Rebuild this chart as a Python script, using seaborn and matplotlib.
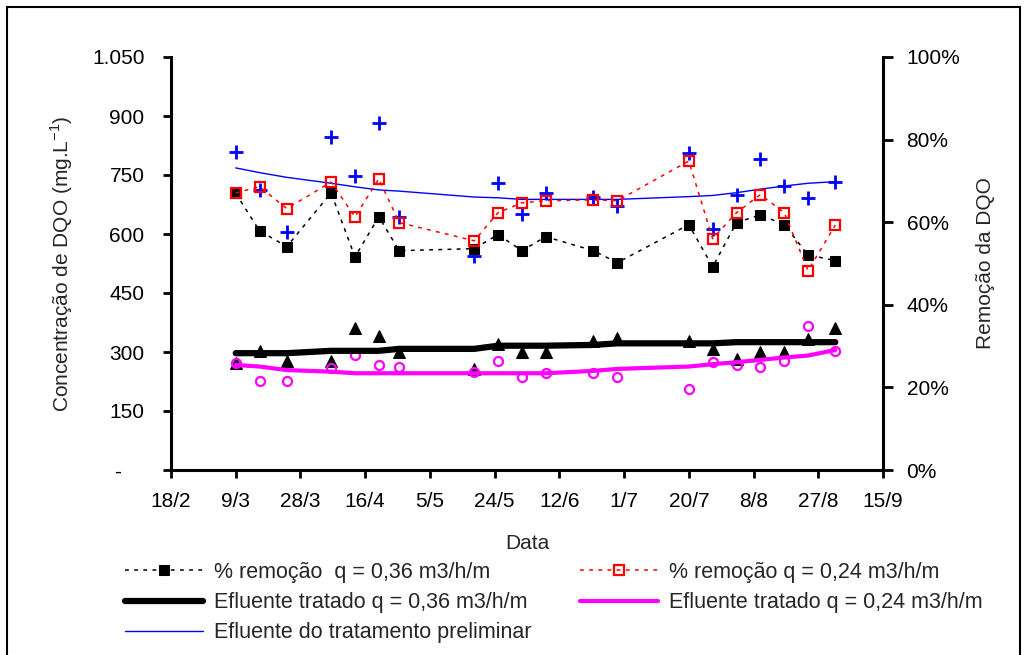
import pandas as pd
import seaborn as sns
import matplotlib.pyplot as plt
from matplotlib.patches import Rectangle
from matplotlib.ticker import FuncFormatter

# datas das coletas (dia/mes)
datas = ['9/3', '16/3', '24/3', '6/4', '13/4', '20/4', '26/4', '18/5', '25/5', '1/6',
         '8/6', '22/6', '29/6', '20/7', '27/7', '3/8', '10/8', '17/8', '24/8', '1/9']

# DQO (mg/L)
afluente = [809, 712, 606, 846, 748, 883, 642, 544, 729, 651,
            703, 695, 671, 807, 612, 698, 790, 722, 692, 733]
afluente_media = [768, 756, 744, 729, 720, 712, 709, 694, 692, 688,
                  688, 688, 688, 695, 698, 705, 714, 722, 729, 733]

tratado_036 = [271, 303, 278, 277, 360, 341, 299, 257, 320, 301,
               301, 328, 336, 328, 308, 281, 301, 299, 333, 362]
tratado_036_media = [297, 297, 297, 303, 303, 303, 308, 308, 316, 316,
                     316, 318, 322, 322, 322, 325, 325, 325, 325, 325]

tratado_024 = [271, 227, 227, 260, 292, 268, 263, 250, 278, 236,
               247, 247, 237, 207, 275, 267, 263, 278, 366, 303]
tratado_024_media = [267, 263, 254, 250, 246, 246, 246, 246, 246, 246,
                     246, 252, 257, 263, 269, 274, 280, 286, 291, 305]

# remocao (%)
remocao_036 = [67.0, 57.9, 54.1, 67.1, 51.6, 61.3, 53.1, 53.6, 57.0, 53.1,
               56.5, 53.1, 50.2, 59.4, 49.2, 59.9, 61.8, 59.4, 52.1, 50.7]
remocao_024 = [67.1, 68.6, 63.3, 69.7, 61.3, 70.5, 59.9, 55.5, 62.3, 64.7,
               65.2, 65.4, 65.2, 74.8, 56.0, 62.3, 66.7, 62.3, 48.3, 59.3]

dt = pd.to_datetime([d + '/2003' for d in datas], format='%d/%m/%Y')
xticks = pd.date_range('2003-02-18', '2003-09-15', freq='19D')

sns.set_style('ticks')
plt.rcParams['font.family'] = ['Liberation Sans', 'DejaVu Sans']
plt.rcParams['mathtext.fontset'] = 'custom'
plt.rcParams['mathtext.rm'] = 'Liberation Sans'

fig = plt.figure(figsize=(10.25, 6.55), dpi=100)
ax = fig.add_axes([171/1025, 1 - 470/655, 712/1025, 413/655])
ax2 = ax.twinx()

# pontos
sns.lineplot(x=dt, y=afluente, ax=ax, marker='+', linestyle='', markersize=10,
             markeredgewidth=2, color='#0000FF', markeredgecolor='#0000FF', zorder=3)
sns.lineplot(x=dt, y=tratado_036, ax=ax, marker='^', linestyle='', markersize=8,
             color='black', markeredgecolor='black', zorder=3)
sns.lineplot(x=dt, y=tratado_024, ax=ax, marker='o', linestyle='', markersize=6.5,
             markerfacecolor='none', markeredgecolor='#FF00FF', markeredgewidth=1.6,
             zorder=3)

# linhas de tendencia
sns.lineplot(x=dt, y=afluente_media, ax=ax, color='#0000FF', linewidth=1, zorder=4)
l_prelim = ax.lines[-1]
sns.lineplot(x=dt, y=tratado_036_media, ax=ax, color='black', linewidth=4.5, zorder=4,
             solid_capstyle='round')
l_t36 = ax.lines[-1]
sns.lineplot(x=dt, y=tratado_024_media, ax=ax, color='#FF00FF', linewidth=3, zorder=4,
             solid_capstyle='round')
l_t24 = ax.lines[-1]

# remocao
sns.lineplot(x=dt, y=remocao_036, ax=ax2, color='black', linewidth=1.1,
             linestyle=(0, (2.5, 3.5)), marker='s', markersize=6.5,
             markeredgecolor='black', markerfacecolor='black', zorder=5)
l_r36 = ax2.lines[-1]
sns.lineplot(x=dt, y=remocao_024, ax=ax2, color='#FF0000', linewidth=1.1,
             linestyle=(0, (2.5, 3.5)), marker='s', markersize=6.5,
             markerfacecolor='none', markeredgecolor='#FF0000', markeredgewidth=1.6,
             zorder=6)
l_r24 = ax2.lines[-1]

ax.set_xlim(xticks[0], xticks[-1])
ax.set_xticks(xticks)
ax.set_xticklabels([f'{t.day}/{t.month}' for t in xticks])
ax.set_ylim(0, 1050)
ax.set_yticks(range(0, 1051, 150))
ax.yaxis.set_major_formatter(FuncFormatter(
    lambda v, p: '-    ' if v == 0 else f'{int(v):,}'.replace(',', '.')))
ax2.set_ylim(0, 100)
ax2.set_yticks(range(0, 101, 20))
ax2.yaxis.set_major_formatter(FuncFormatter(lambda v, p: f'{int(v)}%'))

for s in ['top', 'right']:
    ax.spines[s].set_visible(False)
for s in ['top', 'left', 'bottom']:
    ax2.spines[s].set_visible(False)
for sp in [ax.spines['left'], ax.spines['bottom'], ax2.spines['right']]:
    sp.set_linewidth(2.2)
    sp.set_color('black')

ax.tick_params(axis='y', length=6, width=2, pad=13, labelsize=15, colors='black')
ax.tick_params(axis='x', length=6, width=2, pad=10, labelsize=15, colors='black')
ax2.tick_params(axis='y', length=7, width=2, pad=10, labelsize=15, colors='black')

ax.set_xlabel('Data', fontsize=15)
ax.xaxis.set_label_coords(0.5, -0.155)
ax.set_ylabel('Concentração de DQO (mg.L$^{-1}$)', fontsize=15)
ax.yaxis.set_label_coords(-0.135, 0.5)
ax2.set_ylabel('Remoção da DQO', fontsize=15)
ax2.yaxis.set_label_coords(1.131, 0.5)

leg_kw = dict(loc='upper left', frameon=False, fontsize=15.5, handlelength=3.6,
              handletextpad=0.55, labelspacing=0.42, borderaxespad=0, borderpad=0)
fig.legend([l_r36, l_t36, l_prelim],
           ['% remoção  q = 0,36 m3/h/m', 'Efluente tratado q = 0,36 m3/h/m',
            'Efluente do tratamento preliminar'],
           bbox_to_anchor=(125/1025, 1 - 562/655), **leg_kw)
fig.legend([l_r24, l_t24],
           ['% remoção q = 0,24 m3/h/m', 'Efluente tratado q = 0,24 m3/h/m'],
           bbox_to_anchor=(580/1025, 1 - 562/655), **leg_kw)

fig.patches.append(Rectangle((7/1025, -0.01), 1013/1025, 1.01 - 7/655,
                             transform=fig.transFigure, fill=False,
                             edgecolor='black', linewidth=1.5))

fig.savefig('out.png', dpi=100)
